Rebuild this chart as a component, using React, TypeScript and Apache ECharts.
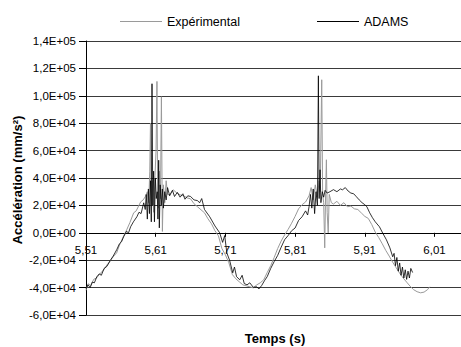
import React, { useEffect, useRef } from "react";
import * as echarts from "echarts";

const seriesNames = ["Expérimental", "ADAMS"];

const expTime = [
  5.51, 5.513, 5.517, 5.521, 5.525, 5.529, 5.5354, 5.54, 5.544, 5.549, 5.554, 5.558, 5.562, 5.5684, 5.573, 5.5784,
  5.582, 5.5885, 5.592, 5.595, 5.598, 5.6, 5.6015, 5.6025, 5.6035, 5.605, 5.607, 5.609, 5.6105, 5.6118, 5.6128,
  5.614, 5.6155, 5.6168, 5.6182, 5.6196, 5.621, 5.623, 5.625, 5.627, 5.63, 5.635, 5.64, 5.645, 5.65, 5.655, 5.66,
  5.665, 5.67, 5.675, 5.68, 5.685, 5.69, 5.695, 5.7, 5.705, 5.71, 5.715, 5.72, 5.725, 5.73, 5.735, 5.74, 5.745,
  5.75, 5.755, 5.76, 5.765, 5.77, 5.775, 5.78, 5.785, 5.79, 5.795, 5.8, 5.805, 5.81, 5.815, 5.82, 5.825, 5.83,
  5.833, 5.836, 5.839, 5.842, 5.8445, 5.846, 5.8482, 5.8495, 5.851, 5.8525, 5.8538, 5.8549, 5.856, 5.8575, 5.859,
  5.862, 5.865, 5.87, 5.875, 5.88, 5.885, 5.89, 5.895, 5.9, 5.905, 5.91, 5.915, 5.92, 5.925, 5.93, 5.935, 5.94,
  5.945, 5.95, 5.955, 5.96, 5.965, 5.97, 5.975, 5.98, 5.985, 5.99, 5.995, 6.0, 6.003,
];
const expValue = [
  -42000, -37200, -38500, -34000, -33000, -30500, -27000, -23500, -21000, -17500, -14600, -9000, -4500, 2200, 7500,
  14600, 16000, 22600, 24000, 26300, 30000, 22000, 45000, 80000, 20000, 38000, 15000, 42000, 60000, 110500, 30000,
  18000, 45000, 25000, 99300, 1000, 35000, 22000, 38000, 28000, 27700, 31400, 29200, 27700, 27000, 25500, 24800,
  21200, 19000, 16800, 14600, 10200, 6600, 1500, -2200, -11500, -16100, -21900, -30500, -33600, -35800, -38000,
  -38700, -39400, -40200, -38000, -36500, -34300, -29000, -24000, -18000, -11500, -6000, -1500, 2500, 7000, 12000,
  17500, 20500, 22500, 27000, 33000, 24000, 35000, 26000, 38000, 30000, 111700, 28000, 22000, -11000, 30000, 53300,
  15000, 0, 28000, 22000, 21000, 23000, 20000, 22000, 19000, 19500, 17500, 17000, 14500, 12000, 10500, 6000, 500,
  -3500, -8000, -12800, -17000, -21500, -25500, -29500, -33000, -36000, -39000, -41500, -43000, -43800, -43300,
  -41500, -39400,
];

const adamsTime = [
  5.51, 5.513, 5.516, 5.519, 5.522, 5.5255, 5.529, 5.532, 5.536, 5.54, 5.5454, 5.549, 5.554, 5.558, 5.561, 5.564,
  5.568, 5.571, 5.574, 5.578, 5.583, 5.586, 5.589, 5.5928, 5.595, 5.5965, 5.598, 5.5995, 5.601, 5.6025, 5.6037,
  5.6047, 5.6058, 5.607, 5.6082, 5.6095, 5.6108, 5.6122, 5.6132, 5.6143, 5.6152, 5.6165, 5.618, 5.6195, 5.621,
  5.623, 5.625, 5.627, 5.63, 5.634, 5.637, 5.641, 5.645, 5.649, 5.652, 5.656, 5.66, 5.665, 5.67, 5.673, 5.676,
  5.68, 5.6875, 5.695, 5.7018, 5.706, 5.709, 5.712, 5.716, 5.7205, 5.723, 5.726, 5.7306, 5.734, 5.737, 5.741,
  5.745, 5.75, 5.755, 5.758, 5.762, 5.766, 5.77, 5.775, 5.78, 5.785, 5.79, 5.795, 5.8, 5.805, 5.81, 5.815, 5.82,
  5.825, 5.828, 5.83, 5.832, 5.834, 5.836, 5.838, 5.84, 5.842, 5.8434, 5.8445, 5.8458, 5.847, 5.849, 5.851, 5.853,
  5.856, 5.86, 5.865, 5.87, 5.875, 5.878, 5.882, 5.886, 5.89, 5.894, 5.898, 5.902, 5.906, 5.91, 5.913, 5.917,
  5.921, 5.925, 5.931, 5.936, 5.941, 5.946, 5.95, 5.952, 5.954, 5.956, 5.958, 5.96, 5.962, 5.964, 5.966, 5.968,
  5.97, 5.972, 5.974, 5.976, 5.9786,
];
const adamsValue = [
  -41000, -38000, -40000, -36000, -36500, -32100, -30000, -31000, -26000, -24500, -19700, -17000, -12400, -8000,
  -6500, -2900, 1000, 0, 4400, 8000, 11700, 15000, 14000, 21900, 17000, 28000, 10000, 32000, 14000, 38000, 8000,
  108800, 20000, 45000, 8000, 40000, 25000, 30000, 10000, 53000, 3600, 35000, 20000, 32000, 18000, 30000, 24000,
  33000, 27000, 31000, 26500, 29500, 26000, 28500, 24500, 27000, 26500, 24000, 23500, 21900, 25000, 17000, 11700,
  5000, 0, -7000, -2000, -14600, -20000, -29200, -25000, -32000, -34300, -31000, -37000, -38000, -36500, -39800,
  -39400, -41000, -38500, -35000, -32000, -26000, -21000, -16500, -10500, -5000, -2000, 1500, 3500, 9000, 11700,
  16000, 13000, 19000, 28000, 18000, 32000, 14000, 30000, 20000, 114600, 25000, 46000, 22000, 30000, 26000, 31000,
  29000, 30000, 31500, 30000, 32000, 31400, 33000, 30500, 29000, 28500, 26300, 24000, 22000, 20500, 19000, 14600,
  11000, 8000, 4400, -500, -5100, -11000, -17500, -15000, -24000, -18000, -28000, -22000, -31000, -25000, -33000,
  -27000, -34000, -28000, -33000, -26000, -29000,
];

const xTickValues = [5.51, 5.61, 5.71, 5.81, 5.91, 6.01];
const yMin = -60000;
const yMax = 140000;
const yStep = 20000;
const xMin = 5.51;
const xMax = 6.048;

const FONT = "Liberation Sans, Arial, sans-serif";

const GRID_TOP = 41;
const GRID_BOTTOM = 32;
const CHART_H = 347;

function sci(v: number): string {
  if (v === 0) return "0,0E+00";
  const e = Math.floor(Math.log10(Math.abs(v)) + 1e-9);
  const m = v / Math.pow(10, e);
  return (
    m.toFixed(1).replace(".", ",") + "E" + (e < 0 ? "-" : "+") + String(Math.abs(e)).padStart(2, "0")
  );
}

export default function App() {
  const ref = useRef<HTMLDivElement>(null);
  useEffect(() => {
    if (!ref.current) return;
    const chart = echarts.init(ref.current, undefined, { renderer: "svg" });
    const expData = expTime.map((t, i) => [t, expValue[i]]);
    const adamsData = adamsTime.map((t, i) => [t, adamsValue[i]]);
    // place the x axis on the zero line (Excel style)
    const plotH = CHART_H - GRID_TOP - GRID_BOTTOM;
    const zeroOffset = -((0 - yMin) / (yMax - yMin)) * plotH;
    chart.setOption({
      animation: false,
      backgroundColor: "#ffffff",
      textStyle: { fontFamily: FONT },
      grid: { left: 86, right: 0, top: GRID_TOP, bottom: GRID_BOTTOM, containLabel: false },
      legend: [
        {
          data: [seriesNames[0]],
          left: 115,
          top: 10,
          icon: "rect",
          itemWidth: 42,
          itemHeight: 1,
          itemGap: 5,
          textStyle: { fontFamily: FONT, fontSize: 12.5, color: "#000" },
        },
        {
          data: [seriesNames[1]],
          left: 312,
          top: 10,
          icon: "rect",
          itemWidth: 42,
          itemHeight: 1,
          textStyle: { fontFamily: FONT, fontSize: 12.5, color: "#000" },
        },
      ],
      xAxis: {
        type: "value",
        min: xMin,
        max: xMax,
        interval: 0.1,
        position: "bottom",
        offset: zeroOffset,
        axisLine: { show: true, onZero: false, lineStyle: { color: "#000", width: 1 } },
        axisTick: { show: true, length: 4, customValues: xTickValues, lineStyle: { color: "#000" } },
        axisLabel: {
          customValues: xTickValues,
          margin: 11,
          fontSize: 11.5,
          color: "#000",
          fontFamily: FONT,
          formatter: (v: number) => v.toFixed(2).replace(".", ","),
        },
        splitLine: { show: false },
      },
      yAxis: {
        type: "value",
        min: yMin,
        max: yMax,
        interval: yStep,
        axisLine: { show: true, lineStyle: { color: "#000", width: 1 } },
        axisTick: { show: true, length: 7, lineStyle: { color: "#000" } },
        axisLabel: { margin: 10, fontSize: 11.5, color: "#000", fontFamily: FONT, formatter: sci },
        splitLine: { show: true, lineStyle: { color: "#3a3a3a", width: 1 } },
      },
      graphic: [
        {
          type: "text",
          x: 275,
          y: 338,
          style: {
            text: "Temps (s)",
            fontFamily: FONT,
            fontSize: 13,
            fontWeight: "bold",
            fill: "#000",
            align: "center",
            verticalAlign: "middle",
          },
        },
        {
          type: "text",
          x: 17,
          y: 180,
          rotation: Math.PI / 2,
          style: {
            text: "Accélération (mm/s²)",
            fontFamily: FONT,
            fontSize: 13,
            fontWeight: "bold",
            fill: "#000",
            align: "center",
            verticalAlign: "middle",
          },
        },
      ],
      series: [
        {
          name: seriesNames[0],
          type: "line",
          data: expData,
          showSymbol: false,
          symbol: "none",
          color: "#9a9a9a",
          lineStyle: { color: "#9a9a9a", width: 1 },
          z: 2,
        },
        {
          name: seriesNames[1],
          type: "line",
          data: adamsData,
          showSymbol: false,
          symbol: "none",
          color: "#000000",
          lineStyle: { color: "#000000", width: 0.8 },
          z: 3,
        },
      ],
    });
    return () => chart.dispose();
  }, []);
  return (
    <div
      ref={ref}
      style={{ position: "fixed", left: 0, top: 0, width: 461, height: 347, background: "#fff" }}
    />
  );
}
